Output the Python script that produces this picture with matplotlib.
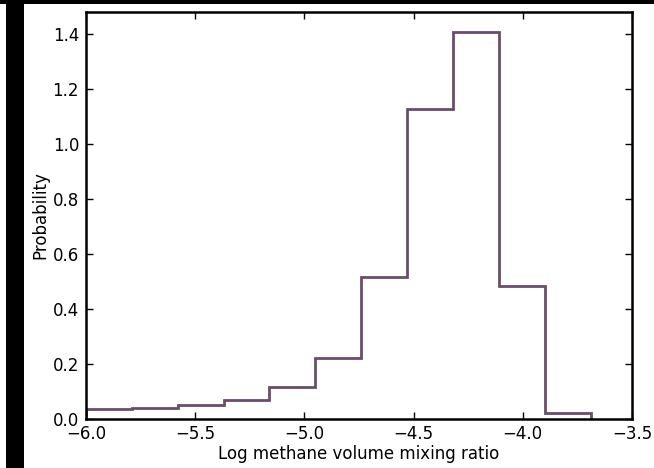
import numpy as np
import matplotlib
matplotlib.use("Agg")
import matplotlib.pyplot as plt
from matplotlib.patches import Rectangle

bin_edges = [-6.0, -5.79, -5.58, -5.37, -5.16, -4.95, -4.74, -4.53, -4.32, -4.11, -3.90, -3.69]
probability = [0.035, 0.039, 0.048, 0.066, 0.114, 0.221, 0.515, 1.126, 1.409, 0.482, 0.021]
x_ticks = [-6.0, -5.5, -5.0, -4.5, -4.0, -3.5]
y_ticks = [0.0, 0.2, 0.4, 0.6, 0.8, 1.0, 1.2, 1.4]

fig = plt.figure(figsize=(6.54, 4.68), dpi=100)
# black strips at the border of the reference
fig.patches.append(Rectangle((6/654, 0), 18/654, 1, transform=fig.transFigure,
                             facecolor="black", edgecolor="none", zorder=0))
fig.patches.append(Rectangle((0, 1 - 3.5/468), 1, 3.5/468, transform=fig.transFigure,
                             facecolor="black", edgecolor="none", zorder=0))

ax = fig.add_axes([86/654, 1 - 418.5/468, (632 - 86)/654, (418.5 - 12.3)/468])
ax.stairs(probability, bin_edges, color="#6b4d6b", linewidth=2.0)

ax.set_xlim(-6.0, -3.5)
ax.set_ylim(0, 1.479)
ax.set_xticks(x_ticks)
ax.set_yticks(y_ticks)
ax.set_xticklabels([f"{v:.1f}".replace("-", "\u2212") for v in x_ticks])
ax.set_yticklabels([f"{v:.1f}" for v in y_ticks])
ax.tick_params(direction="in", length=5, width=1, top=True, right=True,
               labelsize=12, pad=5)
for s in ax.spines.values():
    s.set_linewidth(1.8)
ax.set_xlabel("Log methane volume mixing ratio", fontsize=12, labelpad=1)
ax.set_ylabel("Probability", fontsize=12, labelpad=2)

fig.savefig("out.png", dpi=100)
